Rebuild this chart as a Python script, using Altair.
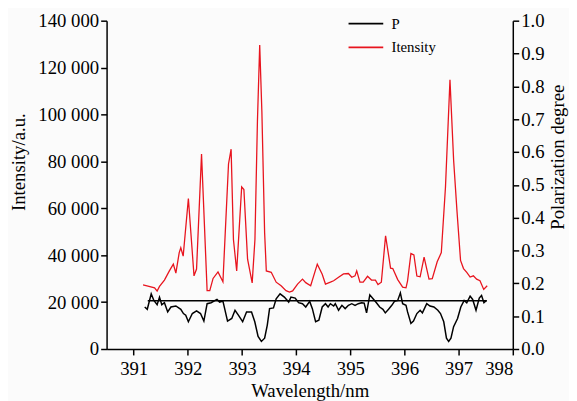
import altair as alt
import pandas as pd

# Intensity (red) trace
wl_i = [391.173, 391.264, 391.386, 391.433, 391.477, 391.568, 391.659, 391.732, 391.779, 391.841,
        391.870, 391.914, 392.010, 392.114, 392.161, 392.253, 392.356, 392.405, 392.466, 392.557,
        392.648, 392.751, 392.799, 392.842, 392.902, 392.994, 393.035, 393.103, 393.188, 393.239,
        393.285, 393.327, 393.367, 393.418, 393.449, 393.540, 393.631, 393.722, 393.813, 393.876,
        393.935, 394.026, 394.117, 394.177, 394.268, 394.390, 394.481, 394.541, 394.632, 394.692,
        394.783, 394.874, 394.965, 395.027, 395.087, 395.118, 395.178, 395.238, 395.318, 395.391,
        395.464, 395.511, 395.573, 395.651, 395.743, 395.784, 395.875, 395.966, 396.028, 396.057,
        396.119, 396.174, 396.229, 396.289, 396.362, 396.453, 396.513, 396.604, 396.680, 396.757,
        396.840, 396.908, 396.968, 397.035, 397.090, 397.150, 397.212, 397.272, 397.332, 397.394,
        397.463, 397.527]
intensity = [27300, 26800, 26100, 24700, 26700, 29400, 33300, 36200, 32400, 41100,
             43200, 39600, 64200, 31200, 34100, 83100, 24900, 24900, 30100, 32900,
             28700, 78900, 85200, 46700, 33300, 69100, 68000, 38300, 28200, 46700,
             97100, 129600, 101300, 49500, 33300, 32700, 28500, 27000, 24900, 24300,
             24800, 27700, 29800, 28300, 27000, 36200, 31900, 27700, 28500, 29100,
             30600, 32000, 32200, 30600, 31200, 33300, 28500, 28500, 31000, 29400,
             29400, 27500, 28500, 48300, 34500, 34300, 29600, 26400, 26100, 29100,
             40700, 40100, 31100, 30800, 39200, 29800, 30000, 37200, 41100, 69100,
             114800, 80300, 59300, 37800, 34300, 32700, 30700, 31200, 29800, 29100,
             25400, 27000]

# Polarization degree (black) trace
wl_p = [391.204, 391.251, 391.324, 391.373, 391.433, 391.477, 391.519, 391.568, 391.628, 391.688,
        391.779, 391.870, 391.919, 391.961, 392.010, 392.083, 392.161, 392.234, 392.296, 392.356,
        392.429, 392.538, 392.587, 392.648, 392.733, 392.811, 392.871, 392.933, 393.012, 393.084,
        393.176, 393.236, 393.297, 393.358, 393.418, 393.467, 393.509, 393.581, 393.631, 393.703,
        393.782, 393.862, 393.904, 393.982, 394.044, 394.117, 394.177, 394.250, 394.299, 394.359,
        394.419, 394.481, 394.541, 394.590, 394.632, 394.692, 394.723, 394.783, 394.845, 394.905,
        394.965, 395.027, 395.087, 395.147, 395.209, 395.256, 395.300, 395.360, 395.420, 395.482,
        395.542, 395.602, 395.646, 395.706, 395.766, 395.815, 395.875, 395.924, 395.966, 396.028,
        396.057, 396.119, 396.166, 396.229, 396.289, 396.331, 396.411, 396.471, 396.543, 396.616,
        396.665, 396.725, 396.775, 396.816, 396.858, 396.907, 396.980, 397.040, 397.102, 397.150,
        397.212, 397.259, 397.321, 397.381, 397.423, 397.467, 397.514]
pol = [0.128, 0.121, 0.168, 0.148, 0.135, 0.158, 0.135, 0.141, 0.113, 0.128,
       0.131, 0.121, 0.108, 0.103, 0.083, 0.108, 0.116, 0.108, 0.085, 0.138,
       0.141, 0.151, 0.143, 0.146, 0.085, 0.093, 0.118, 0.103, 0.083, 0.113,
       0.113, 0.083, 0.038, 0.023, 0.033, 0.073, 0.123, 0.125, 0.153, 0.168,
       0.158, 0.143, 0.158, 0.155, 0.141, 0.138, 0.128, 0.145, 0.123, 0.083,
       0.088, 0.128, 0.138, 0.128, 0.138, 0.131, 0.138, 0.118, 0.133, 0.123,
       0.133, 0.138, 0.133, 0.138, 0.141, 0.140, 0.110, 0.165, 0.153, 0.141,
       0.128, 0.121, 0.110, 0.121, 0.133, 0.145, 0.148, 0.171, 0.138, 0.133,
       0.113, 0.078, 0.085, 0.108, 0.118, 0.110, 0.138, 0.131, 0.128, 0.118,
       0.108, 0.083, 0.033, 0.023, 0.033, 0.068, 0.093, 0.128, 0.148, 0.141,
       0.161, 0.151, 0.118, 0.155, 0.163, 0.141, 0.148]

# Horizontal reference line (polarization scale)
ref_start = [391.26]
ref_end = [397.52]
ref_level = [0.147]

x_ticks = [391, 392, 393, 394, 395, 396, 397, 398]
i_ticks = [0, 20000, 40000, 60000, 80000, 100000, 120000, 140000]
p_ticks = [0.0, 0.1, 0.2, 0.3, 0.4, 0.5, 0.6, 0.7, 0.8, 0.9, 1.0]
series_names = ["P", "Itensity"]

FONT = "Liberation Serif"

df_i = pd.DataFrame({"wl": wl_i, "val": intensity, "series": series_names[1]})
df_p = pd.DataFrame({"wl": wl_p, "val": pol, "series": series_names[0]})
df_r = pd.DataFrame({"x1": ref_start, "x2": ref_end, "y": ref_level})

x_axis = alt.Axis(values=x_ticks, title="Wavelength/nm", format="d",
                  tickSize=6, labelPadding=5, labelOverlap=False,
                  titleBaseline="alphabetic", titleY=48)
x_scale = alt.Scale(domain=[390.5, 398], nice=False, zero=False)
x_enc = alt.X("wl:Q", scale=x_scale, axis=x_axis)

color_scale = alt.Scale(domain=series_names, range=["#000000", "#e8141e"])
legend = alt.Legend(orient="none", legendX=251, legendY=-9, title=None,
                    symbolType="M-1.6,0H1.6", symbolSize=484, symbolStrokeWidth=1.8,
                    labelFont=FONT, labelFontSize=15, labelOffset=14, rowPadding=4)
color_enc = alt.Color("series:N", scale=color_scale, legend=legend, sort=series_names)

p_scale = alt.Scale(domain=[0, 1], nice=False)
p_axis = alt.Axis(values=p_ticks, title="Polarization degree", orient="right",
                  format=".1f", tickSize=6, labelPadding=2, labelOverlap=False,
                  tickCount=11, titleX=45, titleY=138, titleAngle=270,
                  titleAlign="center", titleBaseline="middle")

red = alt.Chart(df_i).mark_line(strokeWidth=1.3).encode(
    x=x_enc,
    y=alt.Y("val:Q", scale=alt.Scale(domain=[0, 140000], nice=False),
            axis=alt.Axis(values=i_ticks, title="Intensity/a.u.", orient="left",
                          labelExpr="replace(format(datum.value, ','), ',', ' ')",
                          tickSize=6, labelPadding=2, labelOverlap=False,
                          titleX=-89, titleY=143, titleAngle=270,
                          titleAlign="center", titleBaseline="middle")),
    color=color_enc,
)

black = alt.Chart(df_p).mark_line(strokeWidth=1.5).encode(
    x=x_enc,
    y=alt.Y("val:Q", scale=p_scale, axis=p_axis),
    color=color_enc,
)

rule = alt.Chart(df_r).mark_rule(color="black", strokeWidth=1.5).encode(
    x=alt.X("x1:Q", scale=x_scale, axis=x_axis),
    x2="x2:Q",
    y=alt.Y("y:Q", scale=p_scale, axis=p_axis),
)

chart = alt.layer(red, alt.layer(black, rule)).resolve_scale(y="independent").properties(
    width=412, height=333,
    autosize=alt.AutoSizeParams(type="none"),
    padding={"left": 100, "top": 10, "right": 57, "bottom": 60},
    background="#fbfbfb",
).configure_view(stroke=None).configure_axis(
    grid=False, domainColor="black", domainWidth=1.5, tickColor="black", tickWidth=1.5,
    labelFont=FONT, labelFontSize=19, labelColor="black",
    titleFont=FONT, titleFontSize=19, titleFontWeight="normal", titleColor="black",
)

chart.save("out.html", embed_options={"renderer": "svg", "actions": False})
